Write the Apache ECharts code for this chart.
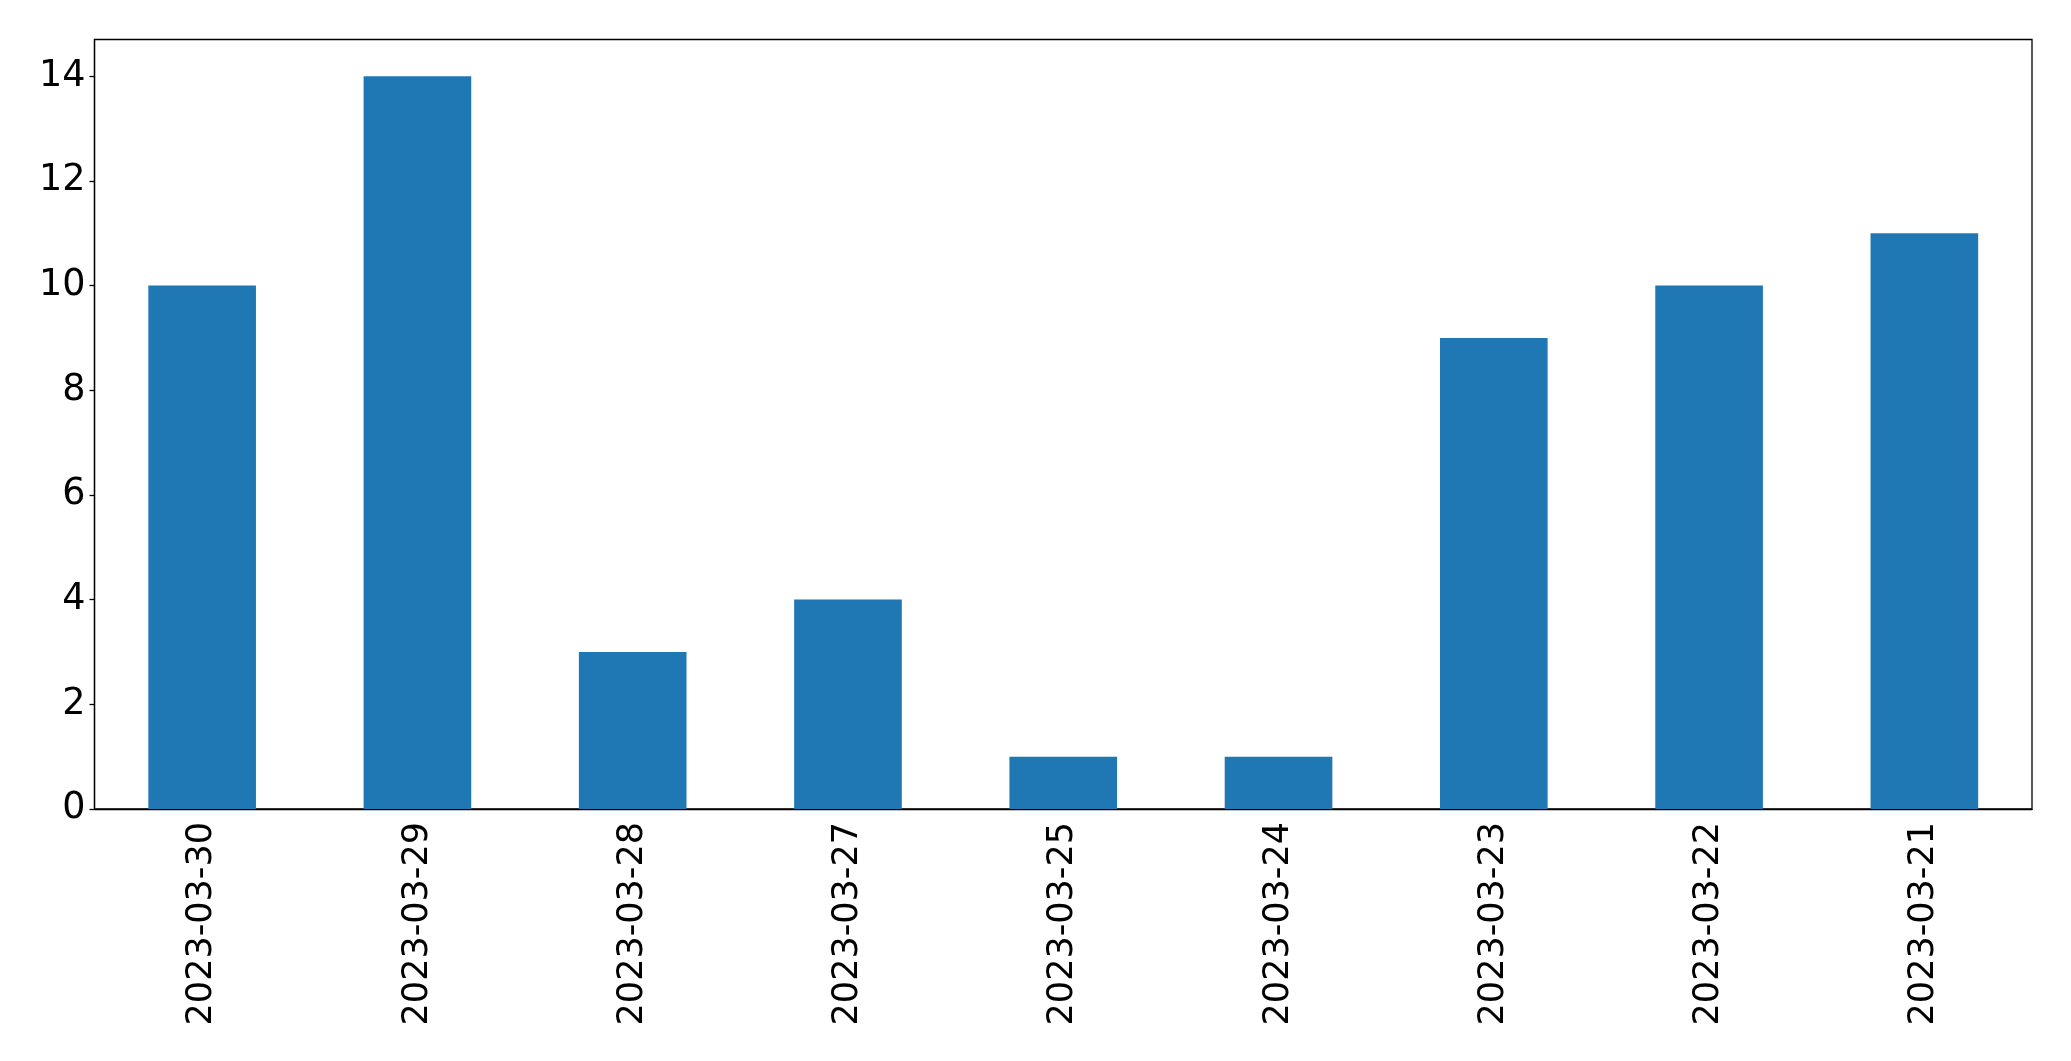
<!DOCTYPE html>
<html>
<head>
<meta charset="utf-8">
<script src="https://cdn.jsdelivr.net/npm/echarts@6/dist/echarts.min.js"></script>
<style>html,body{margin:0;padding:0;background:#fff}#c{width:2071px;height:1061px}</style>
</head>
<body>
<div id="c"></div>
<script>
const categories = ['2023-03-30','2023-03-29','2023-03-28','2023-03-27','2023-03-25','2023-03-24','2023-03-23','2023-03-22','2023-03-21'];
const values = [10, 14, 3, 4, 1, 1, 9, 10, 11];
const yTicks = [0, 2, 4, 6, 8, 10, 12, 14];

const chart = echarts.init(document.getElementById('c'), null, {renderer: 'canvas'});
const font = 'DejaVu Sans';
chart.setOption({
  animation: false,
  grid: {left: 94.5, top: 39.5, right: 39, bottom: 252, show: true, borderColor: '#000', borderWidth: 1.3, backgroundColor: 'transparent'},
  xAxis: {
    type: 'category',
    data: categories,
    axisLine: {lineStyle: {color: '#000', width: 1.3}},
    axisTick: {alignWithLabel: true, length: 5, lineStyle: {color: '#000', width: 1.3}},
    axisLabel: {rotate: 90, color: '#000', fontFamily: font, fontSize: 35, margin: 13}
  },
  yAxis: {
    type: 'value',
    min: 0, max: 14.7, interval: 2,
    splitLine: {show: false},
    axisLine: {show: true, lineStyle: {color: '#000', width: 1.3}},
    axisTick: {show: true, length: 5, lineStyle: {color: '#000', width: 1.3}, customValues: yTicks},
    axisLabel: {color: '#000', fontFamily: font, fontSize: 36.5, margin: 9, customValues: yTicks}
  },
  series: [{
    type: 'bar',
    data: values,
    barWidth: '50%',
    itemStyle: {color: '#1f77b4'}
  }]
});
</script>
</body>
</html>
